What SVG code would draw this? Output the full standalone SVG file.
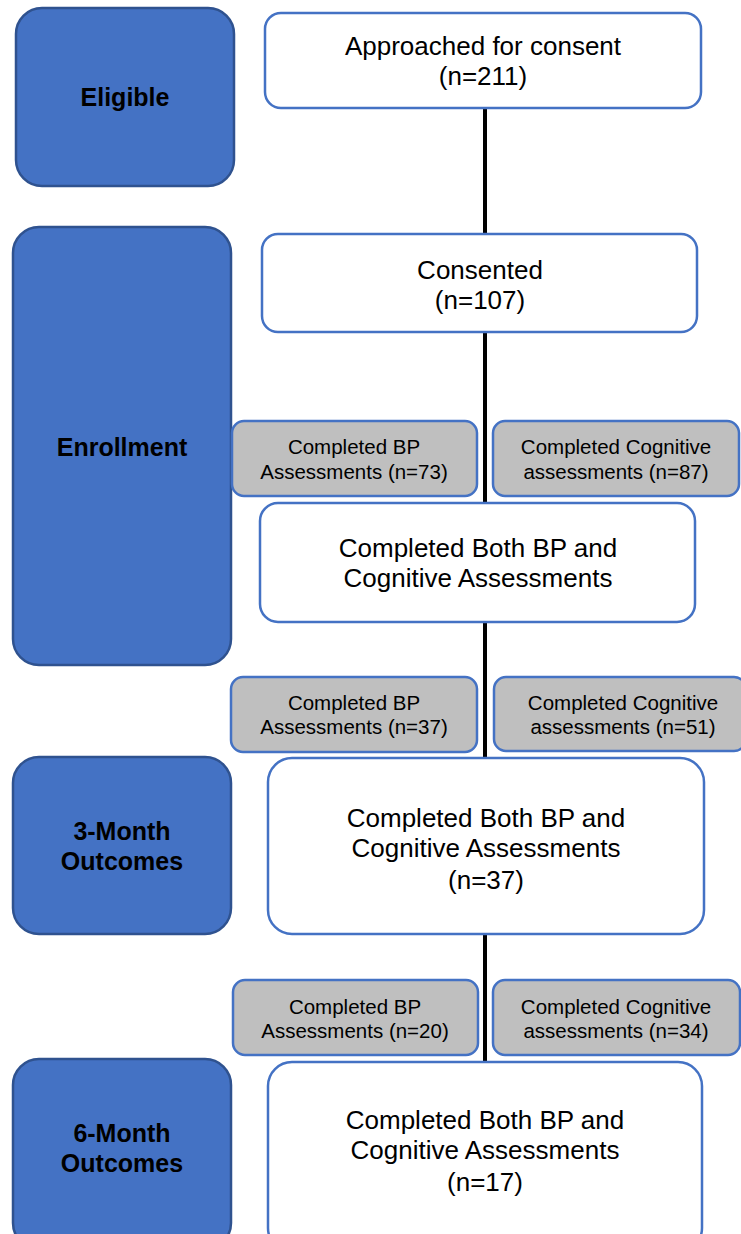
<svg xmlns="http://www.w3.org/2000/svg" width="741" height="1234" viewBox="0 0 741 1234">
<style>
.stage{fill:#4472C4;stroke:#2F528F;stroke-width:2.5}
.box{fill:#FFFFFF;stroke:#4472C4;stroke-width:2.5}
.sub{fill:#BFBFBF;stroke:#4472C4;stroke-width:2.5}
.lbl{font-family:"Liberation Sans",Arial,sans-serif;font-weight:bold;font-size:25px;fill:#000;text-anchor:middle}
.big{font-family:"Liberation Sans",Arial,sans-serif;font-size:26px;fill:#000;text-anchor:middle}
.sm{font-family:"Liberation Sans",Arial,sans-serif;font-size:20.5px;fill:#000;text-anchor:middle}
.conn{stroke:#000;stroke-width:4;fill:none}
</style>
<rect width="741" height="1234" fill="#FFFFFF"/>
<g id="connectors">
<line class="conn" x1="485" y1="108" x2="485" y2="234"/>
<line class="conn" x1="485" y1="332" x2="485" y2="503"/>
<line class="conn" x1="485" y1="622" x2="485" y2="758"/>
<line class="conn" x1="485" y1="934" x2="485" y2="1062"/>
</g>
<g id="stage-eligible">
<rect class="stage" x="16" y="8" width="218" height="178" rx="26"/>
<text class="lbl" x="125" y="106">Eligible</text>
</g>
<g id="stage-enrollment">
<rect class="stage" x="13" y="227" width="218" height="438" rx="26"/>
<text class="lbl" x="122" y="456">Enrollment</text>
</g>
<g id="stage-3month">
<rect class="stage" x="13" y="757" width="218" height="177" rx="26"/>
<text class="lbl" x="122" y="840">3-Month</text>
<text class="lbl" x="122" y="870">Outcomes</text>
</g>
<g id="stage-6month">
<rect class="stage" x="13" y="1059" width="218" height="190" rx="26"/>
<text class="lbl" x="122" y="1142">6-Month</text>
<text class="lbl" x="122" y="1172">Outcomes</text>
</g>
<g id="approached">
<rect class="box" x="265" y="13" width="436" height="95" rx="16"/>
<text class="big" x="483" y="55">Approached for consent</text>
<text class="big" x="483" y="85">(n=211)</text>
</g>
<g id="consented">
<rect class="box" x="262" y="234" width="435" height="98" rx="16"/>
<text class="big" x="480" y="279">Consented</text>
<text class="big" x="480" y="309">(n=107)</text>
</g>
<g id="enroll-bp">
<rect class="sub" x="232" y="421" width="245" height="75" rx="12"/>
<text class="sm" x="354" y="454">Completed BP</text>
<text class="sm" x="354" y="479">Assessments (n=73)</text>
</g>
<g id="enroll-cog">
<rect class="sub" x="493" y="421" width="246" height="75" rx="12"/>
<text class="sm" x="616" y="454">Completed Cognitive</text>
<text class="sm" x="616" y="479">assessments (n=87)</text>
</g>
<g id="enroll-both">
<rect class="box" x="260" y="503" width="435" height="119" rx="18"/>
<text class="big" x="478" y="557">Completed Both BP and</text>
<text class="big" x="478" y="587">Cognitive Assessments</text>
</g>
<g id="m3-bp">
<rect class="sub" x="231" y="677" width="246" height="75" rx="12"/>
<text class="sm" x="354" y="710">Completed BP</text>
<text class="sm" x="354" y="734">Assessments (n=37)</text>
</g>
<g id="m3-cog">
<rect class="sub" x="494" y="677" width="252" height="74" rx="12"/>
<text class="sm" x="623" y="710">Completed Cognitive</text>
<text class="sm" x="623" y="734">assessments (n=51)</text>
</g>
<g id="m3-both">
<rect class="box" x="268" y="758" width="436" height="176" rx="24"/>
<text class="big" x="486" y="827">Completed Both BP and</text>
<text class="big" x="486" y="857">Cognitive Assessments</text>
<text class="big" x="486" y="889">(n=37)</text>
</g>
<g id="m6-bp">
<rect class="sub" x="233" y="980" width="245" height="75" rx="12"/>
<text class="sm" x="355" y="1014">Completed BP</text>
<text class="sm" x="355" y="1038">Assessments (n=20)</text>
</g>
<g id="m6-cog">
<rect class="sub" x="493" y="980" width="247" height="75" rx="12"/>
<text class="sm" x="616" y="1014">Completed Cognitive</text>
<text class="sm" x="616" y="1038">assessments (n=34)</text>
</g>
<g id="m6-both">
<rect class="box" x="268" y="1062" width="434" height="190" rx="24"/>
<text class="big" x="485" y="1129">Completed Both BP and</text>
<text class="big" x="485" y="1159">Cognitive Assessments</text>
<text class="big" x="485" y="1191">(n=17)</text>
</g>
</svg>
